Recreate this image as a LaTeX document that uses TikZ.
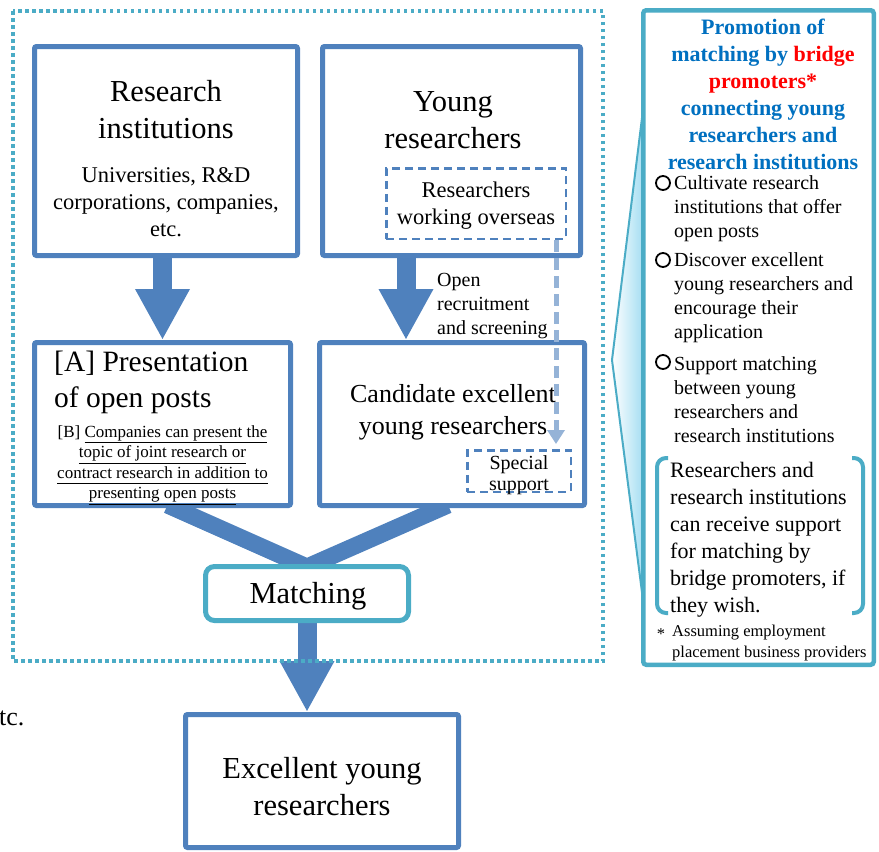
\documentclass[tikz,border=0pt]{standalone}
\usepackage{fontspec}
\setmainfont{Liberation Serif}
\definecolor{boxblue}{RGB}{79,129,189}
\definecolor{framecyan}{RGB}{75,172,198}
\definecolor{titleblue}{RGB}{0,112,192}
\definecolor{paleblue}{RGB}{149,179,215}
\definecolor{wedgecyan}{RGB}{165,222,242}
\newcommand{\undl}[1]{\underline{#1\vphantom{g}}}
\usepackage{tikz}
\usetikzlibrary{positioning,calc,arrows.meta,backgrounds}

\begin{document}
\begin{tikzpicture}[
            x=1pt, y=-1pt,
            box/.style={draw=boxblue, line width=5pt, fill=white, rounded corners=2pt},
            dashbox/.style={draw=boxblue, line width=2.5pt, dash pattern=on 8pt off 5pt},
            matchbox/.style={draw=framecyan, line width=5pt, fill=white, rounded corners=9pt},
            panelbox/.style={draw=framecyan, line width=4.5pt, fill=white, rounded corners=3pt},
            bigtext/.style={font=\fontsize{30.5}{37}\selectfont, align=center, inner sep=0pt},
            midtext/.style={font=\fontsize{22.5}{27}\selectfont, align=center, inner sep=0pt},
            smalltext/.style={font=\fontsize{20}{24}\selectfont, align=left, inner sep=0pt},
            notetext/.style={font=\fontsize{17}{20.5}\selectfont, align=center, inner sep=0pt},
            titletext/.style={font=\bfseries\fontsize{22}{27}\selectfont, text=titleblue, align=center, inner sep=0pt},
            foottext/.style={font=\fontsize{16.5}{21}\selectfont, align=left, inner sep=0pt},
            bulletdot/.style={circle, draw, line width=1.8pt, minimum size=14pt, inner sep=0pt},
            blockarrow/.style={boxblue, line width=19pt, -{Triangle[width=51pt, length=51pt]}},
            vline/.style={boxblue, line width=17pt},
            lightarrow/.style={paleblue, line width=5pt, dash pattern=on 12pt off 6pt, -{Triangle[width=17pt, length=14pt]}},
            bracket/.style={draw=framecyan, line width=4pt, rounded corners=9pt},
            dotframe/.style={draw=framecyan, line width=3.5pt, dash pattern=on 3.5pt off 3.5pt}
        ]
            \useasboundingbox (0,0) rectangle (879,852);

            % Boxes of the flow
            \node[box, minimum width=263pt, minimum height=209pt] (ri) at (166,151) {};
            \node[bigtext] (ri-title) at (166,110) {Research\\institutions};
            \node[midtext] (ri-sub) at (166,202) {Universities, R\&D\\corporations, companies,\\etc.};

            \node[box, minimum width=258pt, minimum height=209pt] (yr) at (451.5,151) {};
            \node[bigtext] (yr-title) at (453,120) {Young\\researchers};
            \node[dashbox, minimum width=179.5pt, minimum height=70.5pt] (overseas) at (476,203.5) {};
            \node[midtext] (overseas-txt) at (476,206) {Researchers\\working overseas};

            \node[box, minimum width=256pt, minimum height=163pt] (pres) at (162.5,424) {};
            \node[bigtext, font=\fontsize{29.5}{36}\selectfont, align=left, anchor=west] (pres-title) at (54,382) {[A] Presentation\\of open posts};
            \node[notetext] (pres-note) at (162.5,465) {[B] \undl{Companies can present the}\\\undl{topic of joint research or}\\\undl{contract research in addition to}\\\undl{presenting open posts}};

            \node[box, minimum width=265pt, minimum height=163pt] (cand) at (452,424) {};
            \node[bigtext, font=\fontsize{26}{32}\selectfont] (cand-txt) at (453,412) {Candidate excellent\\young researchers};
            \node[dashbox, minimum width=103.5pt, minimum height=41.5pt] (special) at (519,471) {};
            \node[smalltext, align=center, font=\fontsize{20}{21}\selectfont] (special-txt) at (519,475) {Special\\support};
            \node[smalltext, anchor=west] (recruit) at (437,306) {Open\\recruitment\\and screening};

            \node[matchbox, minimum width=203pt, minimum height=54pt] (match) at (307,593.5) {};
            \node[bigtext] (match-txt) at (308,596) {Matching};
            \node[box, minimum width=273pt, minimum height=133pt] (exc) at (322,781) {};
            \node[bigtext] (exc-txt) at (322,787) {Excellent young\\researchers};
            \node[bigtext, font=\fontsize{26}{32}\selectfont, anchor=west] (etc) at (-1,718) {tc.};

            % Side panel
            \node[panelbox, minimum width=230.5pt, minimum height=654.5pt] (panel) at (758.5,337.5) {};
            \node[titletext] (ptitle) at (763,94) {Promotion of\\matching by \textcolor{red}{bridge}\\\textcolor{red}{promoters*}\\connecting young\\researchers and\\research institutions};
            \node[bulletdot] (dot1) at (663,183) {};
            \node[smalltext, anchor=west] (b1) at (674,209) {Cultivate research\\institutions that offer\\open posts};
            \node[bulletdot] (dot2) at (663,260) {};
            \node[smalltext, anchor=west] (b2) at (674,298) {Discover excellent\\young researchers and\\encourage their\\application};
            \node[bulletdot] (dot3) at (663,362) {};
            \node[smalltext, anchor=west] (b3) at (674,400) {Support matching\\between young\\researchers and\\research institutions};
            \node[smalltext, font=\fontsize{22}{27}\selectfont, anchor=west] (note) at (670,540) {Researchers and\\research institutions\\can receive support\\for matching by\\bridge promoters, if\\they wish.};
            \node[foottext] (star) at (661,634) {*};
            \node[foottext, anchor=west] (foot) at (672,643) {Assuming employment\\placement business providers};
            \draw[bracket] (668,458) -- (657,458) -- (657,613) -- (668,613);
            \draw[bracket] (852,458) -- (863,458) -- (863,613) -- (852,613);

            % Arrows behind the boxes
            \begin{scope}[on background layer]
                \path[draw=framecyan, line width=2pt, left color=white, right color=wedgecyan] (643,110) -- (612,360) -- (643,600) -- cycle;
                \draw[blockarrow] (pres.north |- ri.south) -- (pres.north);
                \coordinate (yrdown) at (406,300);
                \draw[blockarrow] (yrdown |- yr.south) -- (yrdown |- cand.north);
                \draw[vline] ($(pres.south)+(5,-3)$) -- ($(match.north)+(0,3)$) -- ($(cand.south)+(-4,-3)$);
                \draw[blockarrow] (match.south) -- (match.south |- exc.north);
            \end{scope}

            \coordinate (ovs) at (556,300);
            \draw[lightarrow] (ovs |- overseas.south) -- ($(ovs |- special.north)+(0,-5)$);

            \draw[dotframe] (13,11) rectangle (603,661);
        \end{tikzpicture}
\end{document}
